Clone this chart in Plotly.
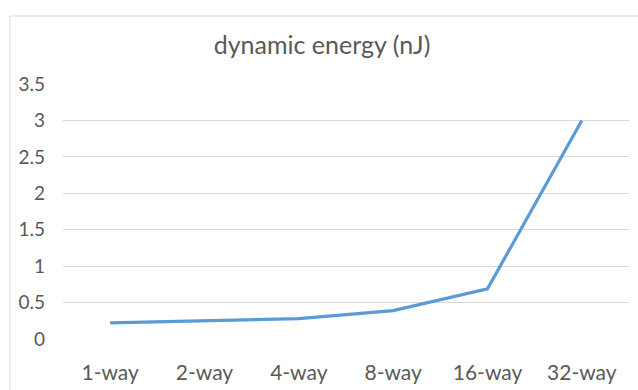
import plotly.graph_objects as go

categories = ["1-way", "2-way", "4-way", "8-way", "16-way", "32-way"]
energy_nj = [0.22, 0.25, 0.28, 0.39, 0.69, 3.0]
y_ticks = [0, 0.5, 1, 1.5, 2, 2.5, 3, 3.5]
y_tick_text = ["0", "0.5", "1", "1.5", "2", "2.5", "3", "3.5"]

W, H = 638, 390
L, R, T, B = 63, 9, 84, 51
pw, ph = W - L - R, H - T - B

fig = go.Figure()
fig.add_trace(go.Scatter(
    x=categories, y=energy_nj, mode="lines",
    line=dict(color="#5B9BD5", width=3.2),
    hoverinfo="x+y",
))

text_font = dict(family="Lato, Open Sans, sans-serif", color="#595959")

# chart-area frame: starts at (10px, 16px) and runs past the right/bottom edges
frame_x0 = (10 - L) / pw
frame_x1 = (W + 20 - L) / pw
frame_y1 = (H - B - 16) / ph
frame_y0 = -(B + 20) / ph

fig.update_layout(
    width=W, height=H,
    margin=dict(l=L, r=R, t=T, b=B),
    paper_bgcolor="white", plot_bgcolor="white",
    showlegend=False,
    title=dict(text="dynamic energy (nJ)", x=322 / W, xanchor="center",
               y=1 - 45 / H, yanchor="middle",
               font=dict(size=25, **text_font)),
    xaxis=dict(type="category", range=[-0.5, 5.5], automargin=False,
               showgrid=False, showline=False, zeroline=False,
               ticks="", ticklabelstandoff=19,
               tickfont=dict(size=21, **text_font)),
    yaxis=dict(range=[0, 3.5], tickvals=y_ticks, ticktext=y_tick_text,
               automargin=False,
               showgrid=True, gridcolor="#D9D9D9", gridwidth=1,
               zeroline=False, showline=False, ticks="", ticklabelstandoff=17,
               tickfont=dict(size=19, **text_font)),
    shapes=[dict(type="rect", xref="paper", yref="paper",
                 x0=frame_x0, x1=frame_x1, y0=frame_y0, y1=frame_y1,
                 line=dict(color="#D9D9D9", width=1), fillcolor="rgba(0,0,0,0)",
                 layer="below")],
)

fig.write_html("out.html")
